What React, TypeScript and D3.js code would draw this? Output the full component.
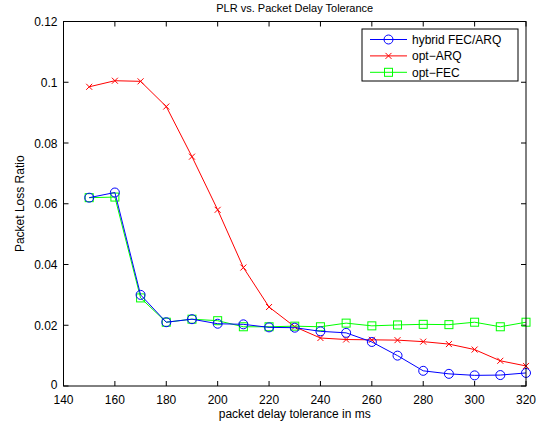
import React from "react";
import * as d3 from "d3";

const xs = [150, 160, 170, 180, 190, 200, 210, 220, 230, 240, 250, 260, 270, 280, 290, 300, 310, 320];
const hybrid = [0.062, 0.0637, 0.030, 0.021, 0.022, 0.0205, 0.0203, 0.0193, 0.0192, 0.018, 0.0175, 0.0145, 0.0100, 0.0050, 0.0040, 0.0035, 0.0036, 0.0043];
const optARQ = [0.0985, 0.1005, 0.1003, 0.092, 0.0755, 0.058, 0.039, 0.026, 0.0195, 0.0158, 0.0153, 0.0152, 0.0151, 0.0146, 0.0138, 0.012, 0.0083, 0.0066];
const optFEC = [0.062, 0.0622, 0.029, 0.021, 0.022, 0.0215, 0.0195, 0.0195, 0.0197, 0.0195, 0.0207, 0.0198, 0.0201, 0.0203, 0.0202, 0.021, 0.0195, 0.021];
const xTicks = [140, 160, 180, 200, 220, 240, 260, 280, 300, 320];
const yTicks = [0, 0.02, 0.04, 0.06, 0.08, 0.1, 0.12];
const seriesNames = ["hybrid FEC/ARQ", "opt\u2212ARQ", "opt\u2212FEC"];
const seriesColors = ["#0000ff", "#ff0000", "#00ff00"];

const W = 543, H = 427;
const L = 63.5, R = 526, T = 21.5, B = 386;
const font = "'Liberation Sans', Arial, Helvetica, sans-serif";

function Marker({ kind, x, y, color }: { kind: number; x: number; y: number; color: string }) {
  if (kind === 0) return <circle cx={x} cy={y} r={4.5} fill="none" stroke={color} strokeWidth={1} />;
  if (kind === 1) {
    const s = 3;
    return <path d={`M${x - s},${y - s}L${x + s},${y + s}M${x - s},${y + s}L${x + s},${y - s}`} stroke={color} strokeWidth={1} />;
  }
  return <rect x={x - 4} y={y - 4} width={8} height={8} fill="none" stroke={color} strokeWidth={1} />;
}

export default function App() {
  const x = d3.scaleLinear().domain([140, 320]).range([L, R]);
  const y = d3.scaleLinear().domain([0, 0.12]).range([B, T]);
  const data = [hybrid, optARQ, optFEC];
  const line = d3.line<number>().x((_, i) => x(xs[i])).y((d) => y(d));
  const order = [1, 2, 0];
  return (
    <svg width={W} height={H} style={{ position: "absolute", left: 0, top: 0 }} fontFamily={font}>
      <rect width={W} height={H} fill="#fff" />
      <text x={(L + R) / 2} y={12} textAnchor="middle" fontSize={11}>PLR vs. Packet Delay Tolerance</text>
      {xTicks.map((t) => (
        <g key={"x" + t}>
          <line x1={x(t)} x2={x(t)} y1={B} y2={B - 5} stroke="#000" />
          <line x1={x(t)} x2={x(t)} y1={T} y2={T + 5} stroke="#000" />
          <text x={x(t)} y={B + 17.5} textAnchor="middle" fontSize={12}>{t}</text>
        </g>
      ))}
      {yTicks.map((t) => (
        <g key={"y" + t}>
          <line x1={L} x2={L + 5} y1={y(t)} y2={y(t)} stroke="#000" />
          <line x1={R} x2={R - 5} y1={y(t)} y2={y(t)} stroke="#000" />
          <text x={L - 6} y={y(t) + (t === 0 ? 2.5 : 4.5)} textAnchor="end" fontSize={12}>{t === 0 ? "0" : String(t)}</text>
        </g>
      ))}
      {order.map((k) => (
        <g key={"s" + k}>
          <path d={line(data[k]) || ""} fill="none" stroke={seriesColors[k]} strokeWidth={1} />
          {data[k].map((v, i) => (
            <Marker key={i} kind={k} x={x(xs[i])} y={y(v)} color={seriesColors[k]} />
          ))}
        </g>
      ))}
      <rect x={L} y={T} width={R - L} height={B - T} fill="none" stroke="#000" strokeWidth={1} />
      <text x={(L + R) / 2} y={418} textAnchor="middle" fontSize={12}>packet delay tolerance in ms</text>
      <text transform={`translate(24,${(T + B) / 2}) rotate(-90)`} textAnchor="middle" fontSize={12}>Packet Loss Ratio</text>
      <g>
        <rect x={362} y={29} width={156} height={52} fill="#fff" stroke="#000" strokeWidth={1} />
        {seriesNames.map((n, i) => {
          const yy = 39.5 + i * 16.4;
          return (
            <g key={n}>
              <line x1={370} x2={407} y1={yy} y2={yy} stroke={seriesColors[i]} />
              <Marker kind={i} x={388.5} y={yy} color={seriesColors[i]} />
              <text x={412} y={yy + 4.5} fontSize={12}>{n}</text>
            </g>
          );
        })}
      </g>
    </svg>
  );
}
